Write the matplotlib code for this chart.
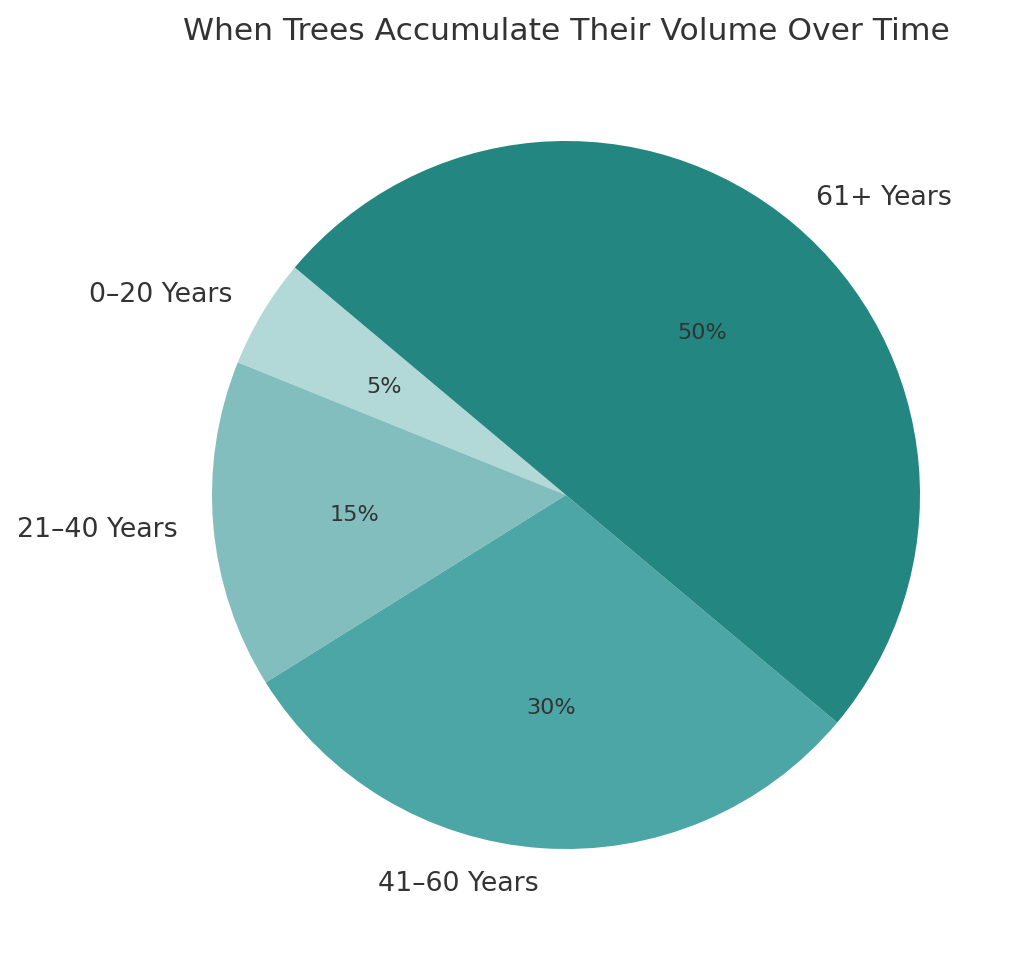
import matplotlib
matplotlib.use("Agg")
import matplotlib.pyplot as plt

categories = ["0–20 Years", "21–40 Years", "41–60 Years", "61+ Years"]
values = [5, 15, 30, 50]
colors = ["#b2d8d8", "#82bebe", "#4da6a6", "#238680"]
title = "When Trees Accumulate Their Volume Over Time"

W, H = 1024, 954
fig = plt.figure(figsize=(W / 100, H / 100), dpi=100)
cx, cy, R = 566, 496, 354
ax = fig.add_axes([(cx - R) / W, (H - cy - R) / H, 2 * R / W, 2 * R / H])
wedges, texts, autotexts = ax.pie(
    values, labels=categories, colors=colors, startangle=140,
    autopct="%1.0f%%", pctdistance=0.6, labeldistance=1.1,
    textprops={"color": "#333333", "fontsize": 19.3},
)
for t in autotexts:
    t.set_fontsize(16.1)
ax.set_xlim(-1, 1)
ax.set_ylim(-1, 1)
ax.set_aspect("equal")

fig.text(cx / W, 1 - 32 / H, title, ha="center", va="center",
         fontsize=22.6, color="#333333")
fig.savefig("out.png", dpi=100)
